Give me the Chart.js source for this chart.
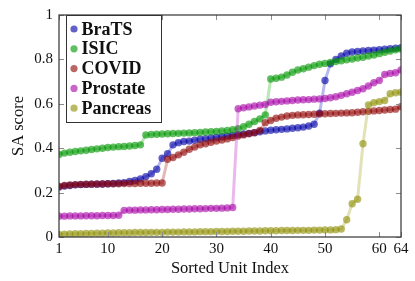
<!DOCTYPE html>
<html>
<head>
<meta charset="utf-8">
<script src="https://cdn.jsdelivr.net/npm/chart.js@4/dist/chart.umd.min.js"></script>
<style>
  body { margin: 0; background: #fff; }
  canvas { display: block; }
</style>
</head>
<body>
<canvas id="saChart" width="415" height="281"></canvas>
<script>
// x positions 1..64 (sorted unit index)
var unitIndex = [];
for (var i = 1; i <= 64; i++) unitIndex.push(i);

var xTickValues = [1, 10, 20, 30, 40, 50, 60, 64];

var seriesNames = ["BraTS", "ISIC", "COVID", "Prostate", "Pancreas"];

var brats = [
  0.225, 0.23, 0.232, 0.235, 0.236, 0.237, 0.238, 0.238, 0.239, 0.24,
  0.241, 0.243, 0.245, 0.25, 0.255, 0.262, 0.272, 0.285, 0.305, 0.355,
  0.375, 0.415, 0.425, 0.43, 0.432, 0.436, 0.44, 0.443, 0.446, 0.449,
  0.452, 0.455, 0.458, 0.461, 0.464, 0.467, 0.47, 0.474, 0.478, 0.481,
  0.483, 0.485, 0.487, 0.49, 0.492, 0.495, 0.5, 0.508, 0.558, 0.705,
  0.78, 0.8, 0.815, 0.828, 0.833, 0.836, 0.838, 0.84, 0.842, 0.844,
  0.846, 0.848, 0.85, 0.853
];
var isic = [
  0.372, 0.378, 0.382, 0.385, 0.388, 0.391, 0.394, 0.397, 0.4, 0.403,
  0.405, 0.407, 0.408, 0.41, 0.412, 0.415, 0.46, 0.462, 0.463, 0.464,
  0.465, 0.466, 0.467, 0.468, 0.469, 0.47, 0.471, 0.473, 0.474, 0.476,
  0.478, 0.48, 0.483, 0.488, 0.497, 0.508, 0.52, 0.532, 0.55, 0.712,
  0.715, 0.72, 0.73, 0.742, 0.752, 0.758, 0.765, 0.772, 0.778, 0.782,
  0.786, 0.79, 0.794, 0.798, 0.802, 0.806, 0.81, 0.815, 0.82, 0.826,
  0.832, 0.838, 0.843, 0.847
];
var covid = [
  0.228, 0.232, 0.234, 0.236, 0.237, 0.238, 0.238, 0.239, 0.239, 0.24,
  0.24, 0.24, 0.241, 0.241, 0.241, 0.242, 0.242, 0.242, 0.243, 0.243,
  0.35, 0.358, 0.37, 0.382, 0.395, 0.405, 0.415, 0.42, 0.427, 0.432,
  0.437, 0.442, 0.448, 0.455, 0.46, 0.465, 0.47, 0.48, 0.515, 0.525,
  0.535, 0.54, 0.545, 0.548, 0.55, 0.551, 0.552, 0.553, 0.554, 0.555,
  0.556, 0.557, 0.558, 0.559, 0.56, 0.562, 0.564, 0.566, 0.568, 0.57,
  0.572, 0.574, 0.576, 0.587
];
var prostate = [
  0.094, 0.094, 0.095, 0.095, 0.095, 0.096, 0.096, 0.096, 0.097, 0.097,
  0.097, 0.098, 0.12, 0.121, 0.121, 0.122, 0.122, 0.123, 0.123, 0.124,
  0.124, 0.125, 0.125, 0.126, 0.126, 0.127, 0.127, 0.128, 0.129, 0.129,
  0.13, 0.131, 0.133, 0.578, 0.582, 0.586, 0.59, 0.594, 0.597, 0.607,
  0.609, 0.611, 0.613, 0.615, 0.617, 0.618, 0.619, 0.621, 0.622, 0.624,
  0.627, 0.632, 0.638, 0.645, 0.652, 0.66, 0.668, 0.68, 0.695, 0.705,
  0.732, 0.737, 0.74, 0.752
];
var pancreas = [
  0.012, 0.013, 0.014, 0.015, 0.015, 0.016, 0.016, 0.017, 0.017, 0.018,
  0.018, 0.019, 0.019, 0.019, 0.02, 0.02, 0.02, 0.021, 0.021, 0.021,
  0.022, 0.022, 0.022, 0.023, 0.023, 0.023, 0.024, 0.024, 0.024, 0.025,
  0.025, 0.025, 0.026, 0.026, 0.026, 0.027, 0.027, 0.027, 0.028, 0.028,
  0.028, 0.029, 0.029, 0.029, 0.03, 0.03, 0.03, 0.031, 0.031, 0.032,
  0.032, 0.033, 0.036, 0.078, 0.15, 0.17, 0.42, 0.595, 0.605, 0.61,
  0.615, 0.645, 0.65, 0.652
];

var seriesValues = [brats, isic, covid, prostate, pancreas];
var markColors = [
  "rgba(0,0,165,0.62)",
  "rgba(0,150,0,0.62)",
  "rgba(140,0,0,0.6)",
  "rgba(165,0,165,0.6)",
  "rgba(140,140,0,0.6)"
];
var lineColors = [
  "rgba(0,0,200,0.28)",
  "rgba(0,170,0,0.28)",
  "rgba(160,0,0,0.28)",
  "rgba(180,0,180,0.28)",
  "rgba(150,150,0,0.28)"
];

var serif = "'Liberation Serif', 'DejaVu Serif', serif";

var datasets = seriesNames.map(function (name, k) {
  return {
    label: name,
    data: seriesValues[k].map(function (v, j) { return { x: unitIndex[j], y: v }; }),
    borderColor: lineColors[k],
    borderWidth: 3,
    backgroundColor: markColors[k],
    pointBackgroundColor: markColors[k],
    pointBorderWidth: 0,
    pointRadius: 3.7,
    pointHoverRadius: 3.7,
    tension: 0,
    order: 5 - k
  };
});

// frame, inward ticks and the boxed legend, drawn the pgfplots way
var framePlugin = {
  id: "frame",
  afterDraw: function (chart) {
    var c = chart.ctx, a = chart.chartArea;
    var xs = chart.scales.x, ys = chart.scales.y;
    c.save();
    c.strokeStyle = "#8c8c8c";
    c.lineWidth = 1;
    xTickValues.forEach(function (v) {
      var px = Math.round(xs.getPixelForValue(v)) + 0.5;
      c.beginPath();
      c.moveTo(px, a.bottom); c.lineTo(px, a.bottom - 5);
      c.moveTo(px, a.top); c.lineTo(px, a.top + 5);
      c.stroke();
    });
    ys.ticks.forEach(function (t) {
      var py = Math.round(ys.getPixelForValue(t.value)) + 0.5;
      c.beginPath();
      c.moveTo(a.left, py); c.lineTo(a.left + 5, py);
      c.moveTo(a.right, py); c.lineTo(a.right - 5, py);
      c.stroke();
    });
    c.strokeStyle = "#333";
    c.lineWidth = 1.2;
    c.strokeRect(a.left, a.top, a.right - a.left, a.bottom - a.top);

    // legend
    var lx = a.left + 7.5, ly = a.top + 0.5, lw = 95, lh = 107;
    c.fillStyle = "#fff";
    c.fillRect(lx, ly, lw, lh);
    c.strokeStyle = "#333";
    c.lineWidth = 1;
    c.strokeRect(lx, ly, lw, lh);
    c.font = "bold 18px " + serif;
    c.textBaseline = "middle";
    seriesNames.forEach(function (name, k) {
      var cy = ly + 13.5 + k * 19.8;
      c.fillStyle = markColors[k];
      c.beginPath();
      c.arc(lx + 7.5, cy, 3.6, 0, Math.PI * 2);
      c.fill();
      c.fillStyle = "#111";
      c.fillText(name, lx + 15, cy + 1);
    });
    c.restore();
  }
};

var ctx = document.getElementById("saChart").getContext("2d");
var saChart = new Chart(ctx, {
  type: "line",
  data: { datasets: datasets },
  options: {
    responsive: false,
    animation: false,
    devicePixelRatio: 1,
    layout: { padding: { left: 0, right: 14, top: 10, bottom: 0 } },
    plugins: {
      legend: { display: false },
      tooltip: { enabled: false }
    },
    scales: {
      x: {
        type: "linear",
        min: 1,
        max: 64,
        afterBuildTicks: function (scale) {
          scale.ticks = xTickValues.map(function (v) { return { value: v }; });
        },
        afterFit: function (scale) { scale.height = 44; },
        grid: { display: false, drawTicks: false },
        border: { display: false },
        ticks: {
          autoSkip: false,
          maxRotation: 0,
          padding: 3,
          color: "#111",
          font: { family: serif, size: 15 }
        },
        title: {
          display: true,
          text: "Sorted Unit Index",
          color: "#111",
          font: { family: serif, size: 16.5 },
          padding: { top: 0, bottom: 2 }
        }
      },
      y: {
        min: 0,
        max: 1,
        afterFit: function (scale) { scale.width = 59; },
        grid: { display: false, drawTicks: false },
        border: { display: false },
        ticks: {
          stepSize: 0.2,
          padding: 6,
          color: "#111",
          font: { family: serif, size: 15 },
          callback: function (v) { return String(Number(v.toFixed(1))); }
        },
        title: {
          display: true,
          text: "SA score",
          color: "#111",
          font: { family: serif, size: 16.5 },
          padding: { top: 9, bottom: 0 }
        }
      }
    }
  },
  plugins: [framePlugin]
});
</script>
</body>
</html>
